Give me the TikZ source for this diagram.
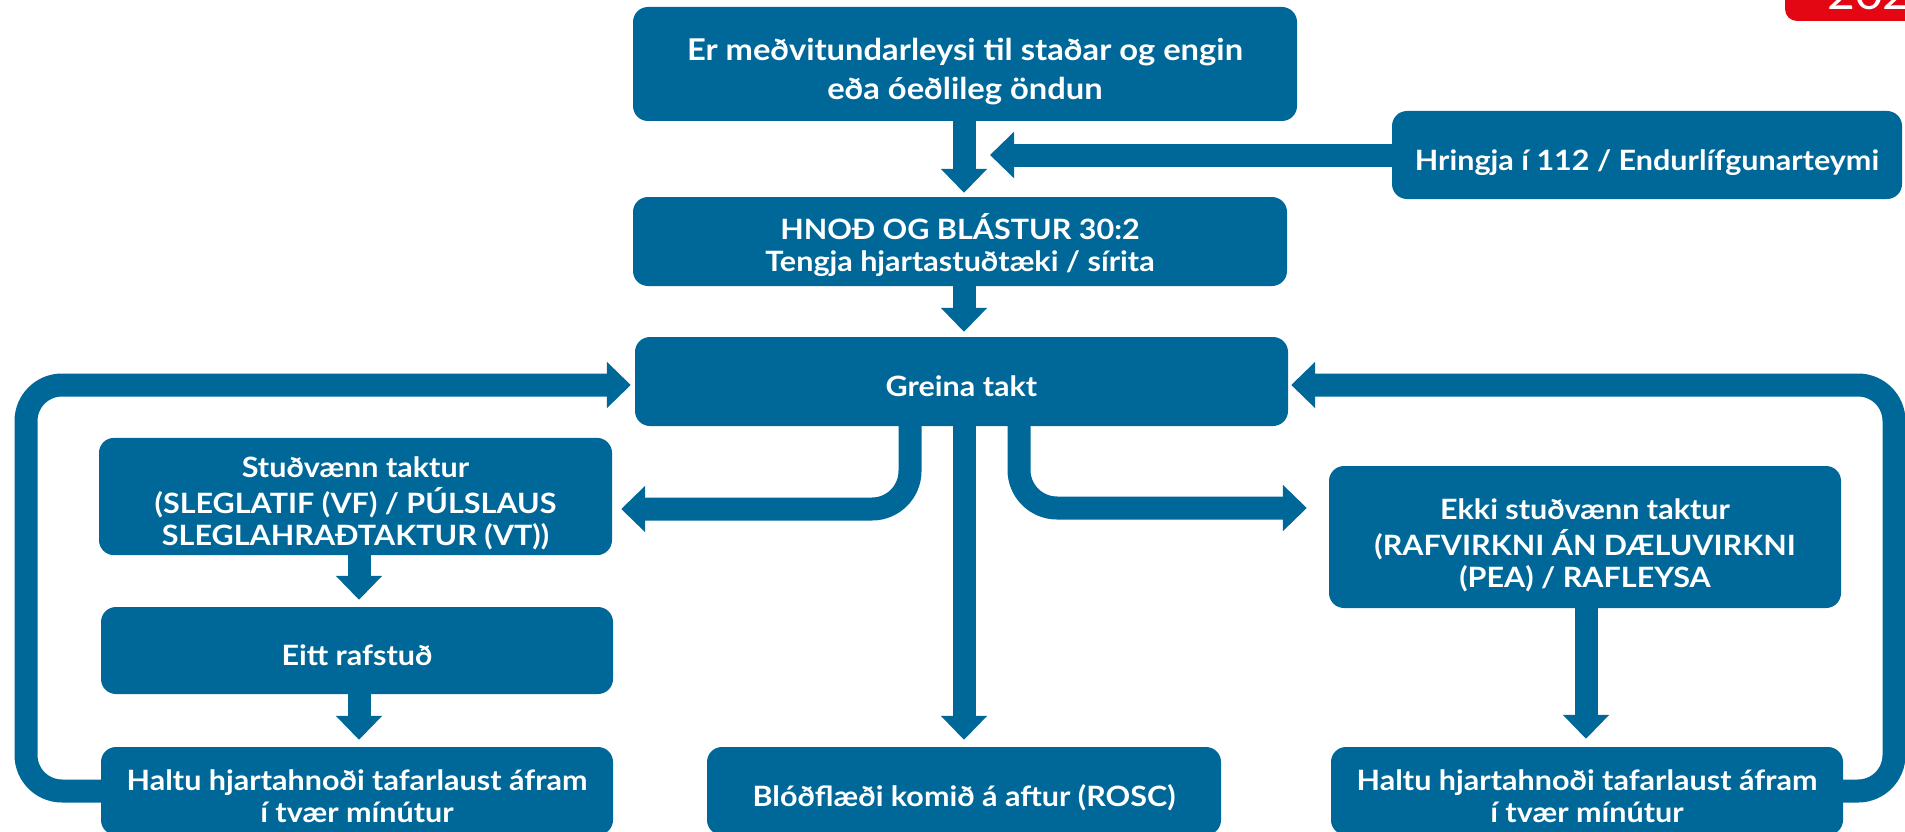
\documentclass[tikz,border=0pt]{standalone}
\usepackage{fontspec}
\setmainfont{Lato}[FakeStretch=1.09]
\usetikzlibrary{arrows.meta,calc}
\definecolor{cblue}{RGB}{0,104,152}
\definecolor{cred}{RGB}{227,6,19}
\newcommand{\boxtext}[2][40pt]{\begin{tabular}{@{}c@{}}\rule{0pt}{#1}#2\end{tabular}}
\tikzset{
  box/.style={fill=cblue, rounded corners=15pt, text=white, inner sep=0pt,
    font=\bfseries\fontsize{28}{32}\selectfont},
  conn/.style={draw=cblue, line width=23pt, -{Triangle[width=45pt,length=24pt]}},
}
\begin{document}
\begin{tikzpicture}[x=1pt,y=-1pt]
\useasboundingbox (0,0) rectangle (1905,832);
\clip (0,0) rectangle (1905,832);
% badge
\fill[cred, rounded corners=12pt] (1785,-40) rectangle (1960,21);
\node[anchor=base west, text=white, font=\fontsize{44}{44}\selectfont, inner sep=0pt] (yr) at (1827,10) {202};
% nodes
\node[box, minimum width=664pt, minimum height=114pt, font=\bfseries\fontsize{30}{39}\selectfont] (b1) at (965,64)
  {\boxtext[43pt]{Er meðvitundarleysi til staðar og engin\\eða óeðlileg öndun}};
\node[box, minimum width=654pt, minimum height=89pt] (b2) at (960,241.5)
  {\boxtext[37pt]{HNOÐ OG BLÁSTUR 30:2\\Tengja hjartastuðtæki / sírita}};
\node[box, minimum width=510pt, minimum height=88pt] (hr) at (1647,155)
  {\boxtext{Hringja í 112 / Endurlífgunarteymi}};
\node[box, minimum width=653pt, minimum height=89pt] (gt) at (961.5,381.5) {\boxtext{Greina takt}};
\node[box, minimum width=513pt, minimum height=113pt] (st) at (355.5,496.5)
  {\boxtext{Stuðvænn taktur\\(SLEGLATIF (VF) / PÚLSLAUS\\SLEGLAHRAÐTAKTUR (VT))}};
\node[box, minimum width=512pt, minimum height=87pt] (er) at (357,650.5) {\boxtext{Eitt rafstuð}};
\node[box, minimum width=512pt, minimum height=88pt] (hl) at (357,791)
  {\boxtext{Haltu hjartahnoði tafarlaust áfram\\í tvær mínútur}};
\node[box, minimum width=514pt, minimum height=88pt] (ro) at (964,791)
  {\boxtext{Blóðflæði komið á aftur (ROSC)}};
\node[box, minimum width=512pt, minimum height=142pt] (ek) at (1585,537)
  {\boxtext[42pt]{Ekki stuðvænn taktur\\(RAFVIRKNI ÁN DÆLUVIRKNI\\(PEA) / RAFLEYSA}};
\node[box, minimum width=512pt, minimum height=88pt] (hr2) at (1587,791)
  {\boxtext{Haltu hjartahnoði tafarlaust áfram\\í tvær mínútur}};
% helper coordinates
\coordinate (m) at (964,0);
\coordinate (lb) at (910,509);
\coordinate (rb) at (1019,508);
\coordinate (lc) at (359,0);
\coordinate (rc) at (1586,0);
\coordinate (hrtip) at (990,155);
\coordinate (ll) at (26,0);
\coordinate (rl) at (1894,0);
\coordinate (looptop) at (0,385);
% connectors
\draw[conn, shorten >=4pt] (b1.south -| m) -- (b2.north -| m);
\draw[conn] (hr.west) -- (hrtip);
\draw[conn, shorten >=5pt] (b2.south -| m) -- (gt.north -| m);
\draw[conn, rounded corners=38pt, shorten >=9pt] (gt.south -| lb) |- (st.east |- lb);
\draw[conn, shorten >=7pt] (gt.south -| m) -- (ro.north -| m);
\draw[conn, rounded corners=38pt, shorten >=22pt] (gt.south -| rb) |- (ek.west |- rb);
\draw[conn, shorten >=7pt] (st.south -| lc) -- (er.north -| lc);
\draw[conn, shorten >=7pt] (er.south -| lc) -- (hl.north -| lc);
\draw[conn, shorten >=8pt] (ek.south -| rc) -- (hr2.north -| rc);
\draw[conn, rounded corners=36pt, shorten >=4pt] (hl.west) -| (ll |- looptop) -- (gt.west |- looptop);
\draw[conn, rounded corners=36pt, shorten >=3pt] (hr2.east) -| (rl |- looptop) -- (gt.east |- looptop);
\end{tikzpicture}
\end{document}
